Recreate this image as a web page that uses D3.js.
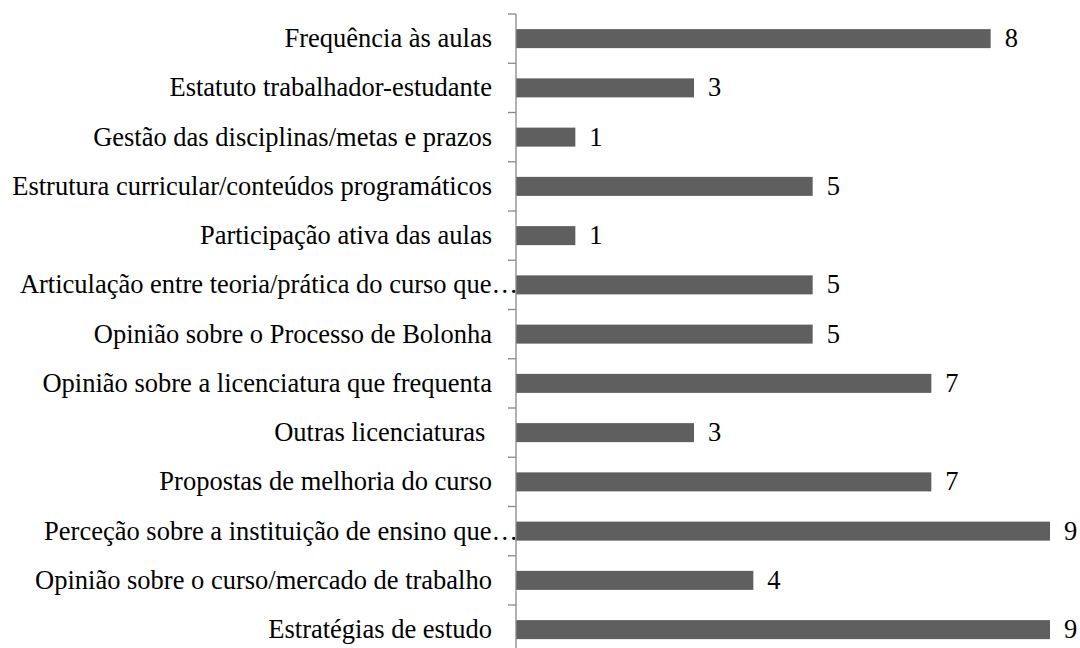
<!DOCTYPE html>
<html>
<head>
<meta charset="utf-8">
<script src="https://cdn.jsdelivr.net/npm/d3@7"></script>
</head>
<body style="margin:0">
<svg width="1080" height="648"></svg>
<script>
// Data
const categories = [
  "Frequência às aulas",
  "Estatuto trabalhador-estudante",
  "Gestão das disciplinas/metas e prazos",
  "Estrutura curricular/conteúdos programáticos",
  "Participação ativa das aulas",
  "Articulação entre teoria/prática do curso que…",
  "Opinião sobre o Processo de Bolonha",
  "Opinião sobre a licenciatura que frequenta",
  "Outras licenciaturas ",
  "Propostas de melhoria do curso",
  "Perceção sobre a instituição de ensino que…",
  "Opinião sobre o curso/mercado de trabalho",
  "Estratégias de estudo"
];
const values = [8, 3, 1, 5, 1, 5, 5, 7, 3, 7, 9, 4, 9];

const svg = d3.select("svg");

// Scales
const x = d3.scaleLinear()
  .domain([0, 9])
  .range([516, 1050]);

const y = d3.scaleBand()
  .domain(categories)
  .range([14, 14 + 13 * 49.25])
  .paddingInner(0.614)
  .paddingOuter(0.307);

const gap = (y.step() - y.bandwidth()) / 2;

// Bars
svg.append("g")
  .selectAll("rect")
  .data(values)
  .enter()
  .append("rect")
  .attr("x", x(0))
  .attr("y", (d, i) => y(categories[i]))
  .attr("width", d => x(d) - x(0))
  .attr("height", y.bandwidth())
  .attr("fill", "#5f5f5f");

// Axis line + ticks at category boundaries
const axis = svg.append("g")
  .attr("stroke", "#888")
  .attr("stroke-width", 1.3);

axis.append("line")
  .attr("x1", x(0)).attr("x2", x(0))
  .attr("y1", y.range()[0]).attr("y2", 648);

const bounds = categories.map(c => y(c) - gap);
bounds.push(y.range()[1]);
axis.selectAll(".tick")
  .data(bounds)
  .enter()
  .append("line")
  .attr("class", "tick")
  .attr("x1", x(0) - 8).attr("x2", x(0))
  .attr("y1", d => d).attr("y2", d => d);

// Category labels
svg.append("g")
  .selectAll("text")
  .data(categories)
  .enter()
  .append("text")
  .attr("x", d => d.endsWith("…") ? 518 : 492)
  .attr("y", d => y(d) + y.bandwidth() / 2 + 8.5)
  .attr("text-anchor", "end")
  .style("font-family", "'Liberation Serif'")
  .style("font-size", "26.5px")
  .style("white-space", "pre")
  .text(d => d);

// Value labels
svg.append("g")
  .selectAll("text")
  .data(values)
  .enter()
  .append("text")
  .attr("x", d => x(d) + 14)
  .attr("y", (d, i) => y(categories[i]) + y.bandwidth() / 2 + 8.5)
  .style("font-family", "'Liberation Serif'")
  .style("font-size", "26.5px")
  .text(d => d);
</script>
</body>
</html>
